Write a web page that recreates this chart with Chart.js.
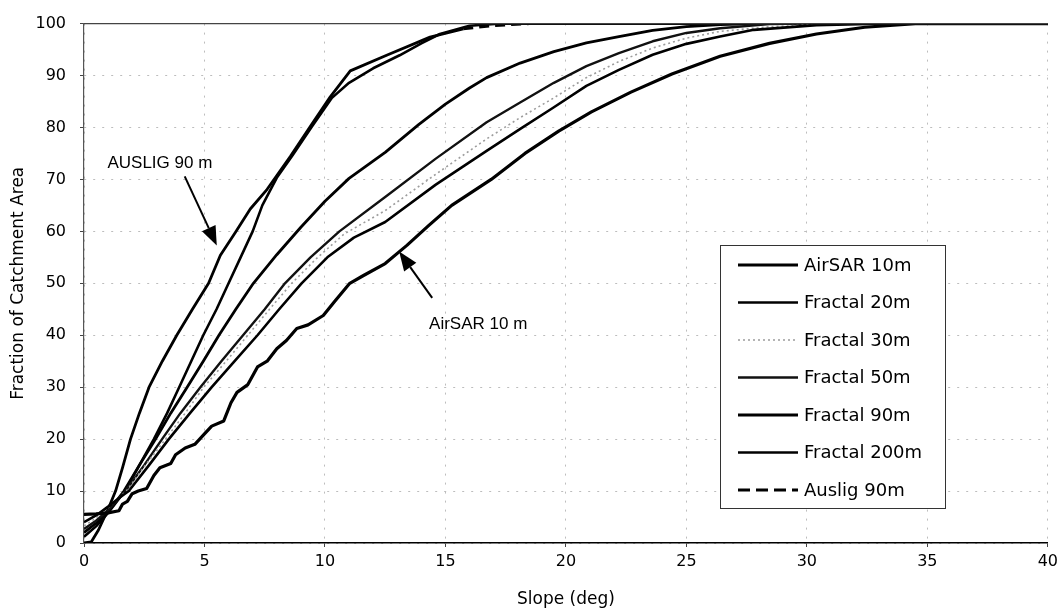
<!DOCTYPE html>
<html>
<head>
<meta charset="utf-8">
<title>Slope distribution</title>
<script src="https://cdn.jsdelivr.net/npm/chart.js@4.4.0/dist/chart.umd.min.js"></script>
<style>
  html, body { margin: 0; padding: 0; background: #fff; }
  #wrap { width: 1063px; height: 612px; position: relative; }
</style>
</head>
<body>
<div id="wrap"><canvas id="chart" width="1063" height="612"></canvas></div>
<script>
// Tick values
const xTickValues = [0, 5, 10, 15, 20, 25, 30, 35, 40];
const yTickValues = [0, 10, 20, 30, 40, 50, 60, 70, 80, 90, 100];

// Series names (legend order)
const seriesNames = ['AirSAR 10m', 'Fractal 20m', 'Fractal 30m', 'Fractal 50m', 'Fractal 90m', 'Fractal 200m', 'Auslig 90m'];

// [slope deg, fraction %]
const airsar10m = [[0,5.5],[0.5,5.6],[1.0,5.8],[1.45,6.2],[1.6,7.5],[1.8,8],[2.0,9.5],[2.25,10],[2.6,10.5],[2.9,13],[3.15,14.5],[3.6,15.3],[3.8,17],[4.2,18.3],[4.6,19],[5.0,21],[5.3,22.5],[5.8,23.5],[6.1,27],[6.35,29],[6.8,30.5],[7.2,33.9],[7.6,35],[8.0,37.4],[8.4,39],[8.83,41.3],[9.3,42],[9.93,43.8],[10.4,46.5],[11.03,50],[11.6,51.5],[12.5,53.8],[13.4,57.3],[14.3,61.1],[15.26,65.0],[16.9,70.0],[18.3,75.0],[19.7,79.3],[21.06,83.0],[22.7,86.8],[24.4,90.3],[26.4,93.7],[28.45,96.2],[30.4,98.0],[32.4,99.3],[34.5,100],[40,100]];
const fractal20m = [[0,4.0],[0.5,5.3],[1.0,7.0],[1.5,8.8],[1.86,10],[2.7,15],[3.52,20],[4.4,25],[5.3,30],[6.25,35],[7.2,40],[8.1,45],[9.03,50],[10.1,55],[11.2,58.8],[12.5,61.8],[14.6,69],[16.71,75.5],[18.09,79.7],[19.47,83.8],[20.85,88.0],[22.2,91.1],[23.6,94.0],[25.0,96.1],[26.4,97.5],[27.8,98.8],[30.4,99.7],[33,100],[40,100]];
const fractal30m = [[0,3.3],[0.5,4.8],[1.0,6.8],[1.76,10],[2.55,15],[3.38,20],[4.2,25],[4.97,30],[5.9,35],[6.8,40],[7.7,45],[8.62,50],[9.7,55],[10.8,59.5],[12.5,64],[14.6,71],[16.71,77.8],[18.1,81.9],[19.5,85.7],[20.85,89.6],[22.2,92.7],[23.6,95.3],[25,97.2],[26.4,98.5],[28.45,99.4],[30.4,99.8],[32,100],[40,100]];
const fractal50m = [[0,2.7],[0.5,4.3],[1.0,6.3],[1.72,10],[2.5,15],[3.24,20],[4.0,25],[4.83,30],[5.7,35],[6.6,40],[7.5,45],[8.34,50],[9.4,55],[10.6,60],[12.5,66.6],[14.6,74],[16.71,81.0],[18.1,84.8],[19.5,88.6],[20.85,91.8],[22.2,94.3],[23.6,96.6],[25.0,98.2],[26.4,99.1],[28.45,99.9],[30,100],[40,100]];
const fractal90m = [[0,2.0],[0.5,3.8],[1.0,6.0],[1.66,10],[2.3,15],[2.97,20],[3.6,25],[4.28,30],[4.95,35],[5.6,40],[6.3,45],[7.03,50],[8.0,55.5],[9.0,60.8],[10.0,65.8],[11.0,70.2],[12.5,75.2],[13.9,80.6],[15.0,84.5],[16.0,87.6],[16.71,89.6],[18.1,92.4],[19.5,94.6],[20.85,96.3],[22.2,97.5],[23.6,98.7],[25,99.4],[26.4,99.8],[28,100],[40,100]];
const fractal200m = [[0,1.2],[0.5,3.2],[1.0,5.8],[1.7,10],[2.3,15],[2.9,20],[3.45,25],[3.95,30],[4.45,35],[4.95,40],[5.5,45],[6.0,50],[6.5,55],[7.0,60],[7.4,65],[8.0,70.3],[8.65,74.6],[9.46,80.2],[10.29,85.7],[11.0,88.6],[12.0,91.4],[13.1,93.9],[14.0,96.2],[14.77,98.0],[16.0,99.6],[17.2,100],[40,100]];
const auslig90m = [[0,0],[0.3,0.2],[0.6,2.5],[1.0,6.5],[1.31,10],[1.6,14.5],[1.93,20],[2.3,25],[2.7,30],[3.25,35],[3.85,40],[4.5,45],[5.17,50],[5.66,55.4],[6.28,59.8],[6.9,64.3],[7.6,68.1],[8.56,74.4],[9.39,80.2],[10.22,85.9],[11.05,90.9],[12.56,93.9],[14.36,97.4],[15.74,99.0],[17.0,99.6],[18.5,100],[40,100]];

const seriesData = [airsar10m, fractal20m, fractal30m, fractal50m, fractal90m, fractal200m, auslig90m];

// Line styles, same order as the names
const seriesStyle = [
    { color: '#000', width: 3.2 },
    { color: '#000', width: 2.6 },
    { color: '#9c9c9c', width: 1.6, dash: [2, 3] },
    { color: '#111', width: 2.4 },
    { color: '#000', width: 2.8 },
    { color: '#000', width: 2.6 },
    { color: '#000', width: 2.8, legendDash: [12, 6] }
];

// Callout labels with arrows, in data units
const callouts = [
    { text: 'AUSLIG 90 m', at: [3.15, 73.1], from: [4.18, 70.6], to: [5.51, 57.3] },
    { text: 'AirSAR 10 m', at: [16.36, 42.1], from: [14.45, 47.2], to: [13.08, 56.1] }
];

function drawArrow(ctx, x1, y1, x2, y2) {
    const ang = Math.atan2(y2 - y1, x2 - x1);
    const headLen = 19, headHalf = 7.5;
    const bx = x2 - headLen * Math.cos(ang);
    const by = y2 - headLen * Math.sin(ang);
    ctx.beginPath();
    ctx.moveTo(x1, y1);
    ctx.lineTo(bx, by);
    ctx.lineWidth = 2;
    ctx.strokeStyle = '#000';
    ctx.stroke();
    ctx.beginPath();
    ctx.moveTo(x2, y2);
    ctx.lineTo(bx + headHalf * Math.sin(ang), by - headHalf * Math.cos(ang));
    ctx.lineTo(bx - headHalf * Math.sin(ang), by + headHalf * Math.cos(ang));
    ctx.closePath();
    ctx.fillStyle = '#000';
    ctx.fill();
}

const overlayPlugin = {
    id: 'overlay',
    afterDatasetsDraw(chart) {
        const ctx = chart.ctx;
        const area = chart.chartArea;
        const xs = chart.scales.x;
        const ys = chart.scales.y;

        ctx.save();
        // top edge of the plot box
        ctx.beginPath();
        ctx.moveTo(area.left, area.top);
        ctx.lineTo(area.right, area.top);
        ctx.lineWidth = 1.2;
        ctx.strokeStyle = '#444';
        ctx.stroke();

        // callouts
        ctx.font = '17px "Liberation Sans", Arial, sans-serif';
        ctx.fillStyle = '#000';
        ctx.textAlign = 'center';
        ctx.textBaseline = 'middle';
        callouts.forEach(c => {
            ctx.fillText(c.text, xs.getPixelForValue(c.at[0]), ys.getPixelForValue(c.at[1]));
            drawArrow(ctx,
                xs.getPixelForValue(c.from[0]), ys.getPixelForValue(c.from[1]),
                xs.getPixelForValue(c.to[0]), ys.getPixelForValue(c.to[1]));
        });

        // legend box
        const box = { x: 720, y: 245, w: 225, h: 263 };
        ctx.fillStyle = '#fff';
        ctx.fillRect(box.x, box.y, box.w, box.h);
        ctx.lineWidth = 1;
        ctx.strokeStyle = '#333';
        ctx.strokeRect(box.x + 0.5, box.y + 0.5, box.w, box.h);

        ctx.font = '18px "DejaVu Sans", Verdana, sans-serif';
        ctx.textAlign = 'left';
        ctx.textBaseline = 'middle';
        chart.data.datasets.forEach((ds, i) => {
            const st = seriesStyle[i];
            const y = box.y + 20 + i * 37.5;
            ctx.beginPath();
            ctx.moveTo(box.x + 18, y);
            ctx.lineTo(box.x + 78, y);
            ctx.lineWidth = st.width;
            ctx.strokeStyle = st.color;
            ctx.setLineDash(st.legendDash || st.dash || []);
            ctx.stroke();
            ctx.setLineDash([]);
            ctx.fillStyle = '#000';
            ctx.fillText(ds.label, box.x + 84, y + 1);
        });
        ctx.restore();
    }
};

const datasets = seriesNames.map((name, i) => {
    const st = seriesStyle[i];
    const ds = {
        label: name,
        data: seriesData[i].map(p => ({ x: p[0], y: p[1] })),
        borderColor: st.color,
        borderWidth: st.width,
        borderDash: st.dash || [],
        borderJoinStyle: 'round',
        pointRadius: 0,
        tension: 0,
        fill: false
    };
    if (name === 'Auslig 90m') {
        // the sparse top end of this curve shows as dashes
        ds.segment = { borderDash: c => (c.p0.parsed.x >= 15.7 ? [10, 6] : undefined) };
    }
    return ds;
});

const tickFont = { family: 'DejaVu Sans', size: 16 };
const titleFont = { family: 'DejaVu Sans', size: 17 };

new Chart(document.getElementById('chart'), {
    type: 'line',
    data: { datasets: datasets },
    options: {
        responsive: false,
        animation: false,
        events: [],
        layout: { padding: { left: 0, right: 13, top: 18, bottom: 0 } },
        plugins: {
            legend: { display: false },
            tooltip: { enabled: false }
        },
        scales: {
            x: {
                type: 'linear',
                min: 0,
                max: 40,
                afterBuildTicks: s => { s.ticks = xTickValues.map(v => ({ value: v })); },
                afterFit: s => { s.height = 69; },
                ticks: { font: tickFont, color: '#000', padding: 5, maxRotation: 0, autoSkip: false },
                grid: { color: '#bdbdbd', lineWidth: 1, tickColor: '#444', tickLength: 4, borderDash: [2, 7] },
                border: { color: '#000', width: 1.5, dash: [2, 7] },
                title: { display: true, text: 'Slope (deg)', font: titleFont, color: '#000', padding: { top: 0, bottom: 2 } }
            },
            y: {
                type: 'linear',
                min: 0,
                max: 100,
                afterBuildTicks: s => { s.ticks = yTickValues.map(v => ({ value: v })); },
                afterFit: s => { s.width = 84; },
                ticks: { font: tickFont, color: '#000', padding: 14, autoSkip: false },
                grid: { color: '#bdbdbd', lineWidth: 1, tickColor: '#444', tickLength: 4, borderDash: [2, 7] },
                border: { color: '#555', width: 1.2, dash: [2, 7] },
                title: { display: true, text: 'Fraction of Catchment Area', font: titleFont, color: '#000', padding: { top: 8, bottom: 0 } }
            }
        }
    },
    plugins: [overlayPlugin]
});
</script>
</body>
</html>
